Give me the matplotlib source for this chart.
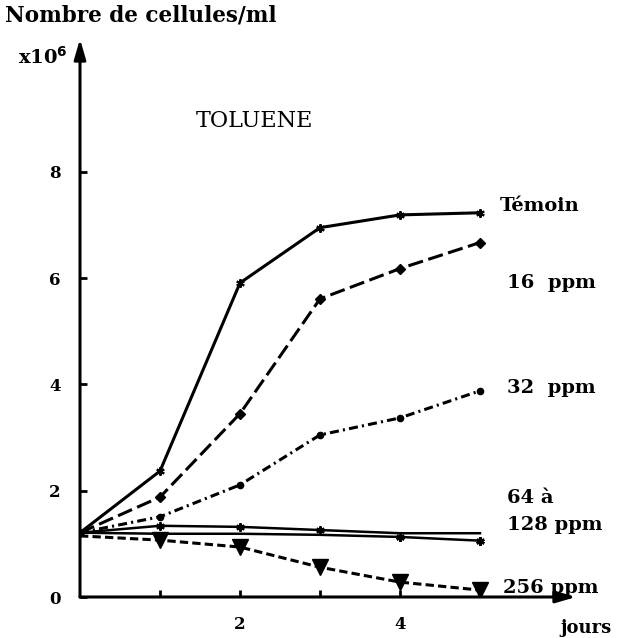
import matplotlib.pyplot as plt

plt.rcParams['font.family'] = 'DejaVu Serif'
plt.rcParams['font.weight'] = 'bold'
plt.rcParams['lines.scale_dashes'] = False

# jours
days = [0, 1, 2, 3, 4, 5]

# cellules/ml (x10^6)
temoin = [1.21, 2.37, 5.91, 6.95, 7.19, 7.23]
ppm16 = [1.21, 1.88, 3.45, 5.61, 6.18, 6.67]
ppm32 = [1.21, 1.51, 2.11, 3.05, 3.37, 3.88]
ppm64 = [1.21, 1.34, 1.32, 1.26, 1.20, 1.20]
ppm128 = [1.21, 1.19, 1.19, 1.17, 1.13, 1.06]
ppm256 = [1.15, 1.07, 0.94, 0.56, 0.28, 0.13]

y_ticks = [0, 2, 4, 6, 8]
x_ticks = [1, 2, 3, 4, 5]
x_tick_labels = ['', '2', '', '4', '']

fig = plt.figure(figsize=(6.19, 6.38), dpi=100)
# origin sits at (80, 597) px, 80 px per day and 53 px per 10^6 cells
ax = fig.add_axes([80 / 619, 41 / 638, 504 / 619, 558 / 638])
ax.set_xlim(0, 6.3)
ax.set_ylim(0, 10.5)
for s in ax.spines.values():
    s.set_visible(False)

# axes with arrow heads
arrow = dict(arrowstyle='-|>,head_length=1.2,head_width=0.35', color='black', lw=2.2,
             shrinkA=0, shrinkB=0)
ax.annotate('', xy=(6.2, 0), xytext=(0, 0), arrowprops=arrow, annotation_clip=False)
ax.annotate('', xy=(0, 10.5), xytext=(0, 0), arrowprops=arrow, annotation_clip=False)

ax.set_xticks(x_ticks)
ax.set_xticklabels(x_tick_labels)
ax.set_yticks(y_ticks)
ax.tick_params(direction='in', length=5, width=2, labelsize=12, pad=14)

after_start = [1, 2, 3, 4, 5]
ax.plot(days, temoin, color='black', lw=2.2, marker=(6, 2, 0), ms=6, mew=1.5)
ax.plot(days, ppm16, color='black', lw=2.2, dashes=(11, 4), marker='D', ms=5,
        markevery=after_start)
ax.plot(days, ppm32, color='black', lw=2.2, dashes=(6.5, 3, 1.5, 3), marker='o', ms=4.5,
        markevery=after_start)
ax.plot(days, ppm64, color='black', lw=1.8, marker=(6, 2, 0), ms=6, mew=1.5,
        markevery=[1, 2, 3])
ax.plot(days, ppm128, color='black', lw=1.8, marker=(6, 2, 0), ms=6, mew=1.8,
        markevery=[4, 5])
ax.plot(days, ppm256, color='black', lw=2.2, dashes=(6, 3), marker='v', ms=11,
        markevery=after_start)

# curve names
ax.text(5.25, 7.35, 'Témoin', fontsize=14, va='center')
ax.text(5.34, 5.9, '16  ppm', fontsize=14, va='center')
ax.text(5.34, 3.94, '32  ppm', fontsize=14, va='center')
ax.text(5.34, 1.87, '64 à', fontsize=14, va='center')
ax.text(5.34, 1.36, '128 ppm', fontsize=14, va='center')
ax.text(5.29, 0.17, '256 ppm', fontsize=14, va='center')

ax.text(1.45, 8.95, 'TOLUENE', fontsize=16, va='center', fontweight='normal')
ax.text(6.33, -0.58, 'jours', fontsize=13, va='center', ha='center')

fig.text(5 / 619, 1 - 15 / 638, 'Nombre de cellules/ml', fontsize=15.5, va='center')
fig.text(18 / 619, 1 - 57 / 638, r'x10$^{\mathbf{6}}$', fontsize=14, va='center')

fig.savefig('out.png', dpi=100)
